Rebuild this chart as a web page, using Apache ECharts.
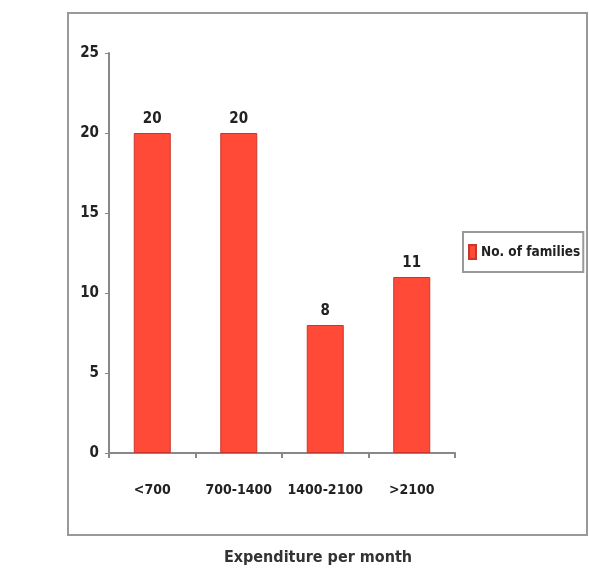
<!DOCTYPE html>
<html>
<head>
<meta charset="utf-8">
<script src="https://cdn.jsdelivr.net/npm/echarts@6/dist/echarts.min.js"></script>
<style>
  html, body { margin: 0; padding: 0; background: #fff; }
  #chart { width: 589px; height: 568px; }
</style>
</head>
<body>
<div id="chart"></div>
<script>
// data
var categories = ['<700', '700-1400', '1400-2100', '>2100']
var families = [20, 20, 8, 11]
var seriesName = 'No. of families'
var axisTitle = 'Expenditure per month'

var narrow = '"Liberation Sans Narrow", "DejaVu Sans Condensed", Arial, sans-serif'

var chart = echarts.init(document.getElementById('chart'))
chart.setOption({
  animation: false,
  backgroundColor: '#fff',
  textStyle: { fontFamily: narrow, color: '#222' },
  grid: { left: 109, right: 134, top: 53, bottom: 115 },
  legend: {
    data: [{ name: seriesName, icon: 'rect' }],
    left: 463,
    top: 232,
    orient: 'vertical',
    padding: [12, 3, 12, 5],
    itemWidth: 7,
    itemHeight: 14,
    itemGap: 0,
    borderColor: '#999',
    borderWidth: 2,
    borderRadius: 0,
    textStyle: { fontFamily: narrow, fontSize: 13.5, fontWeight: 'bold', color: '#222' }
  },
  xAxis: {
    type: 'category',
    data: categories,
    axisLine: { lineStyle: { color: '#888', width: 2 } },
    axisTick: { show: true, length: 5, lineStyle: { color: '#888', width: 2 } },
    axisLabel: { interval: 0, margin: 30, fontSize: 14, fontWeight: 'bold', color: '#222', fontFamily: narrow }
  },
  yAxis: {
    type: 'value',
    min: 0,
    max: 25,
    interval: 5,
    splitLine: { show: false },
    axisLine: { show: true, lineStyle: { color: '#888', width: 2 } },
    axisTick: { show: true, length: 4, lineStyle: { color: '#888', width: 1 } },
    axisLabel: { margin: 10, fontSize: 15, fontWeight: 'bold', color: '#222', fontFamily: narrow }
  },
  series: [{
    name: seriesName,
    type: 'bar',
    barWidth: 37,
    data: families,
    itemStyle: { color: '#ff4a38', borderColor: '#c8362a', borderWidth: 1 },
    label: { show: true, position: 'top', distance: 6, fontSize: 15, fontWeight: 'bold', color: '#222', fontFamily: narrow }
  }],
  graphic: [
    {
      type: 'rect',
      shape: { x: 68, y: 13, width: 519, height: 522 },
      style: { fill: 'none', stroke: '#999', lineWidth: 2 },
      silent: true
    },
    {
      type: 'text',
      x: 318,
      y: 558,
      style: {
        text: axisTitle,
        fontFamily: narrow,
        fontSize: 16,
        fontWeight: 'bold',
        fill: '#333',
        align: 'center',
        verticalAlign: 'middle'
      }
    }
  ]
})
</script>
</body>
</html>
